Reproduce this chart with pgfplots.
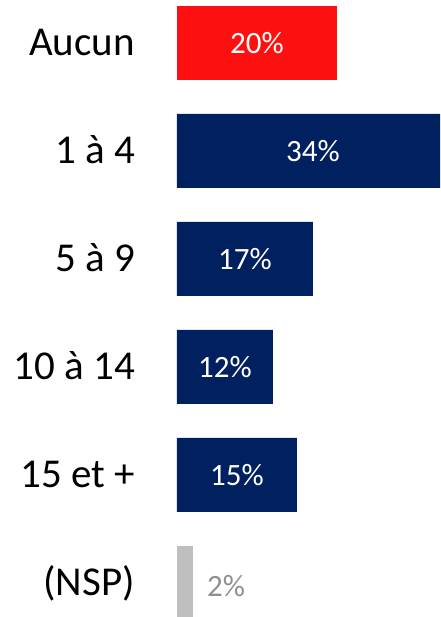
\documentclass[border=0pt]{standalone}
\usepackage{pgfplots}
\pgfplotsset{compat=1.18}
\usepackage{pgfplotstable}
\usepackage{fontspec}
\setmainfont{Carlito}

\definecolor{barred}{HTML}{FF1010}
\definecolor{barnavy}{HTML}{002060}
\definecolor{bargray}{HTML}{BFBFBF}
\definecolor{labgray}{HTML}{8F8F8F}

% idx = row from the top, v = percentage
\pgfplotstableread{
idx v
0 20
}\redtab
\pgfplotstableread{
idx v
1 34
2 17
3 12
4 15
}\navytab
\pgfplotstableread{
idx v
5 2
}\graytab

\begin{document}
\begin{tikzpicture}
\begin{axis}[
    scale only axis,
    width=263pt, height=617pt,
    xmin=0, xmax=32.875,
    ymin=-0.398, ymax=5.315,
    y dir=reverse,
    axis line style={draw=none},
    xtick=\empty,
    ytick={0,...,5},
    yticklabels={Aucun, 1 à 4, 5 à 9, 10 à 14, 15 et +, (NSP)},
    major tick length=0pt,
    yticklabel style={anchor=base east, inner sep=0pt, xshift=-42pt, yshift=-13pt,
        font=\fontsize{41}{41}\selectfont},
    clip=true,
]
\addplot[xbar, bar shift=0pt, bar width=0.685, fill=barred, draw=none]
    table[x=v, y=idx] {\redtab};
\addplot[xbar, bar shift=0pt, bar width=0.685, fill=barnavy, draw=none]
    table[x=v, y=idx] {\navytab};
\addplot[xbar, bar shift=0pt, bar width=0.685, fill=bargray, draw=none]
    table[x=v, y=idx] {\graytab};

% value labels inside the bars
\addplot[draw=none, mark=none, nodes near coords={\pgfplotspointmeta\%},
    point meta=explicit symbolic,
    every node near coord/.append style={anchor=base, inner sep=0pt, yshift=-11pt,
        text=white, font=\fontsize{31}{31}\selectfont}]
    table[x expr=\thisrow{v}/2, y=idx, meta=v] {\redtab};
\addplot[draw=none, mark=none, nodes near coords={\pgfplotspointmeta\%},
    point meta=explicit symbolic,
    every node near coord/.append style={anchor=base, inner sep=0pt, yshift=-11pt,
        text=white, font=\fontsize{31}{31}\selectfont}]
    table[x expr=\thisrow{v}/2, y=idx, meta=v] {\navytab};
% value label beside the small bar
\addplot[draw=none, mark=none, nodes near coords={\pgfplotspointmeta\%},
    point meta=explicit symbolic,
    every node near coord/.append style={anchor=base west, inner sep=0pt,
        xshift=14pt, yshift=-14pt,
        text=labgray, font=\fontsize{31}{31}\selectfont}]
    table[x=v, y=idx, meta=v] {\graytab};
\end{axis}
\path (current axis.south west) ++(-177pt,0pt);
\end{tikzpicture}
\end{document}
